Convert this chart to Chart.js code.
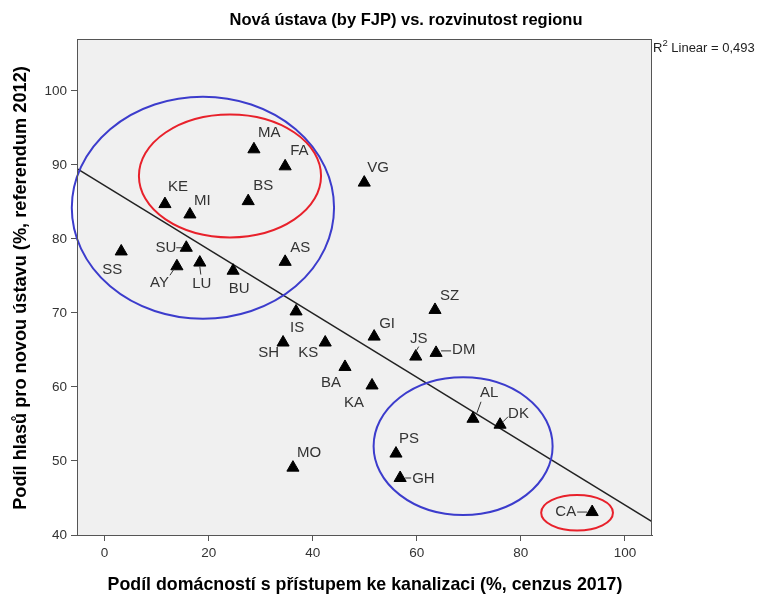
<!DOCTYPE html>
<html lang="cs">
<head>
<meta charset="UTF-8">
<title>Nová ústava (by FJP) vs. rozvinutost regionu</title>
<style>
    body { margin: 0; background: #ffffff; overflow: hidden; }
    #wrap { position: relative; width: 758px; height: 598px; }
</style>
</head>
<body>
<div id="wrap">
    <canvas id="myChart" width="758" height="598"></canvas>
</div>

<script src="https://cdn.jsdelivr.net/npm/chart.js"></script>
<script>
    // Daten
    const regions = ['MA', 'FA', 'VG', 'BS', 'KE', 'MI', 'SU', 'SS', 'AY', 'LU', 'BU', 'AS', 'IS', 'SH',
                     'KS', 'BA', 'KA', 'GI', 'JS', 'DM', 'SZ', 'AL', 'DK', 'PS', 'GH', 'MO', 'CA'];
    const sewerage = [28.7, 34.7, 49.9, 27.6, 11.6, 16.4, 15.7, 3.2, 13.9, 18.3, 24.7, 34.7, 36.8, 34.3,
                      42.4, 46.2, 51.4, 51.8, 59.8, 63.7, 63.5, 70.8, 76.0, 56.0, 56.8, 36.2, 93.7];
    const yesVote = [92.1, 89.8, 87.6, 85.1, 84.7, 83.3, 78.8, 78.3, 76.3, 76.8, 75.7, 76.9, 70.2, 66.0,
                     66.0, 62.7, 60.2, 66.8, 64.1, 64.6, 70.4, 55.7, 54.9, 51.0, 47.7, 49.1, 43.1];

    // Regressionsgerade: Endpunkte am Rand des Plotbereichs
    const fitX = [-5.3, 105.2];
    const fitY = [89.5, 41.8];
    const r2Text = '0,493';

    const xTickVals = [0, 20, 40, 60, 80, 100];
    const yTickVals = [40, 50, 60, 70, 80, 90, 100];

    // Ellipsen (Mittelpunkt und Halbachsen in Achseneinheiten)
    const ellipses = [
        { cx: 18.9, cy: 84.2, rx: 25.2, ry: 15.0, color: '#3c3ccc' },
        { cx: 24.1, cy: 88.5, rx: 17.5, ry: 8.3, color: '#e8212b' },
        { cx: 68.9, cy: 52.0, rx: 17.2, ry: 9.3, color: '#3c3ccc' },
        { cx: 90.8, cy: 43.0, rx: 6.9, ry: 2.4, color: '#e8212b' }
    ];

    // Beschriftungen: Versatz in Pixeln, Ausrichtung, optional Hinweislinie
    const labelPos = {
        MA: [4, -16, 'left'], FA: [5, -15, 'left'], VG: [3, -15, 'left'], BS: [5, -15, 'left'],
        KE: [3, -17, 'left'], MI: [4, -14, 'left'], SU: [-10, 0, 'right', [-4, 0, -10, 0]],
        SS: [-9, 18, 'center'], AY: [-8, 17, 'right', [-3, 3, -7, 9]],
        LU: [2, 21, 'center', [0, 4, 1, 12]], BU: [6, 18, 'center'], AS: [5, -14, 'left'],
        IS: [1, 16, 'center'], SH: [-4, 10, 'right'], KS: [-7, 10, 'right'], BA: [-4, 16, 'right'],
        KA: [-8, 17, 'right'], GI: [5, -13, 'left'], JS: [3, -18, 'center', [0, -5, 3, -10]],
        DM: [16, -3, 'left', [5, -2, 15, -2]], SZ: [5, -14, 'left'],
        AL: [7, -26, 'left', [4, -6, 8, -17]], DK: [8, -11, 'left', [3, -3, 8, -8]],
        PS: [3, -15, 'left'], GH: [12, 1, 'left', [5, 0, 11, 0]], MO: [4, -15, 'left'],
        CA: [-16, 0, 'right', [-5, 0, -15, 0]]
    };

    const ctx = document.getElementById('myChart').getContext('2d');

    const plotBackground = {
        id: 'plotBackground',
        beforeDraw(chart) {
            const a = chart.chartArea;
            const c = chart.ctx;
            c.save();
            c.fillStyle = '#f0f0f0';
            c.fillRect(a.left, a.top, a.right - a.left, a.bottom - a.top);
            c.restore();
        },
        afterDraw(chart) {
            const a = chart.chartArea;
            const c = chart.ctx;
            c.save();
            c.strokeStyle = '#555555';
            c.lineWidth = 1;
            c.strokeRect(a.left + 0.5, a.top + 0.5, a.right - a.left - 1, a.bottom - a.top);

            c.fillStyle = '#000000';
            c.textAlign = 'center';
            c.textBaseline = 'middle';
            c.font = 'bold 16.5px "Liberation Sans", Arial, sans-serif';
            c.fillText('Nová ústava (by FJP) vs. rozvinutost regionu', 406, 20);

            c.font = 'bold 17.8px "Liberation Sans", Arial, sans-serif';
            c.fillText('Podíl domácností s přístupem ke kanalizaci (%, cenzus 2017)', 365, 585);
            c.save();
            c.translate(21, 288);
            c.rotate(-Math.PI / 2);
            c.font = 'bold 18.2px "Liberation Sans", Arial, sans-serif';
            c.fillText('Podíl hlasů pro novou ústavu (%, referendum 2012)', 0, 0);
            c.restore();

            // R² Anmerkung
            c.textAlign = 'left';
            c.fillStyle = '#222222';
            c.font = '13px "Liberation Sans", Arial, sans-serif';
            c.fillText('R', a.right + 1, 48);
            const rw = c.measureText('R').width;
            c.font = '9.5px "Liberation Sans", Arial, sans-serif';
            c.fillText('2', a.right + 1 + rw, 43);
            const sw = c.measureText('2').width;
            c.font = '13px "Liberation Sans", Arial, sans-serif';
            c.fillText(' Linear = ' + r2Text, a.right + 1 + rw + sw, 48);
            c.restore();
        }
    };

    const overlays = {
        id: 'overlays',
        afterDatasetsDraw(chart) {
            const c = chart.ctx;
            const xs = chart.scales.x;
            const ys = chart.scales.y;
            c.save();
            // Ellipsen
            ellipses.forEach(e => {
                const px = xs.getPixelForValue(e.cx);
                const py = ys.getPixelForValue(e.cy);
                const rx = Math.abs(xs.getPixelForValue(e.cx + e.rx) - px);
                const ry = Math.abs(ys.getPixelForValue(e.cy + e.ry) - py);
                c.beginPath();
                c.ellipse(px, py, rx, ry, 0, 0, Math.PI * 2);
                c.strokeStyle = e.color;
                c.lineWidth = 2;
                c.stroke();
            });
            // Punktbeschriftungen
            const meta = chart.getDatasetMeta(0);
            c.font = '15px "Liberation Sans", Arial, sans-serif';
            c.textBaseline = 'middle';
            regions.forEach((name, i) => {
                const pt = meta.data[i];
                const p = labelPos[name];
                if (p[3]) {
                    c.beginPath();
                    c.moveTo(pt.x + p[3][0], pt.y + p[3][1]);
                    c.lineTo(pt.x + p[3][2], pt.y + p[3][3]);
                    c.strokeStyle = '#333333';
                    c.lineWidth = 1;
                    c.stroke();
                }
                c.fillStyle = '#333333';
                c.textAlign = p[2];
                c.fillText(name, pt.x + p[0], pt.y + p[1]);
            });
            c.restore();
        }
    };

    const tickFont = { family: '"Liberation Sans", Arial, sans-serif', size: 13.5 };

    const myChart = new Chart(ctx, {
        type: 'scatter',
        data: {
            datasets: [{
                label: 'Regiony',
                data: regions.map((r, i) => ({ x: sewerage[i], y: yesVote[i] })),
                pointStyle: 'triangle',
                radius: 7,
                backgroundColor: '#000000',
                borderColor: '#000000',
                borderWidth: 1
            }, {
                type: 'line',
                label: 'Lineární fit',
                data: fitX.map((x, i) => ({ x: x, y: fitY[i] })),
                borderColor: '#222222',
                borderWidth: 1.5,
                pointRadius: 0,
                fill: false
            }]
        },
        options: {
            responsive: false,
            animation: false,
            layout: { padding: { left: 0, right: 106, top: 39, bottom: 0 } },
            plugins: {
                legend: { display: false },
                tooltip: { enabled: false },
                title: { display: false }
            },
            scales: {
                x: {
                    type: 'linear',
                    min: -5.3,
                    max: 105.2,
                    afterBuildTicks: s => { s.ticks = xTickVals.map(v => ({ value: v })); },
                    afterFit: s => { s.height = 63; },
                    grid: { display: true, drawOnChartArea: false, drawTicks: true, tickLength: 6, color: '#555555' },
                    border: { display: true, color: '#555555' },
                    ticks: { color: '#333333', font: tickFont, padding: 4 }
                },
                y: {
                    type: 'linear',
                    min: 40,
                    max: 107,
                    afterBuildTicks: s => { s.ticks = yTickVals.map(v => ({ value: v })); },
                    afterFit: s => { s.width = 77; },
                    grid: { display: true, drawOnChartArea: false, drawTicks: true, tickLength: 6, color: '#555555' },
                    border: { display: true, color: '#555555' },
                    ticks: { color: '#333333', font: tickFont, padding: 4 }
                }
            }
        },
        plugins: [plotBackground, overlays]
    });
</script>
</body>
</html>
